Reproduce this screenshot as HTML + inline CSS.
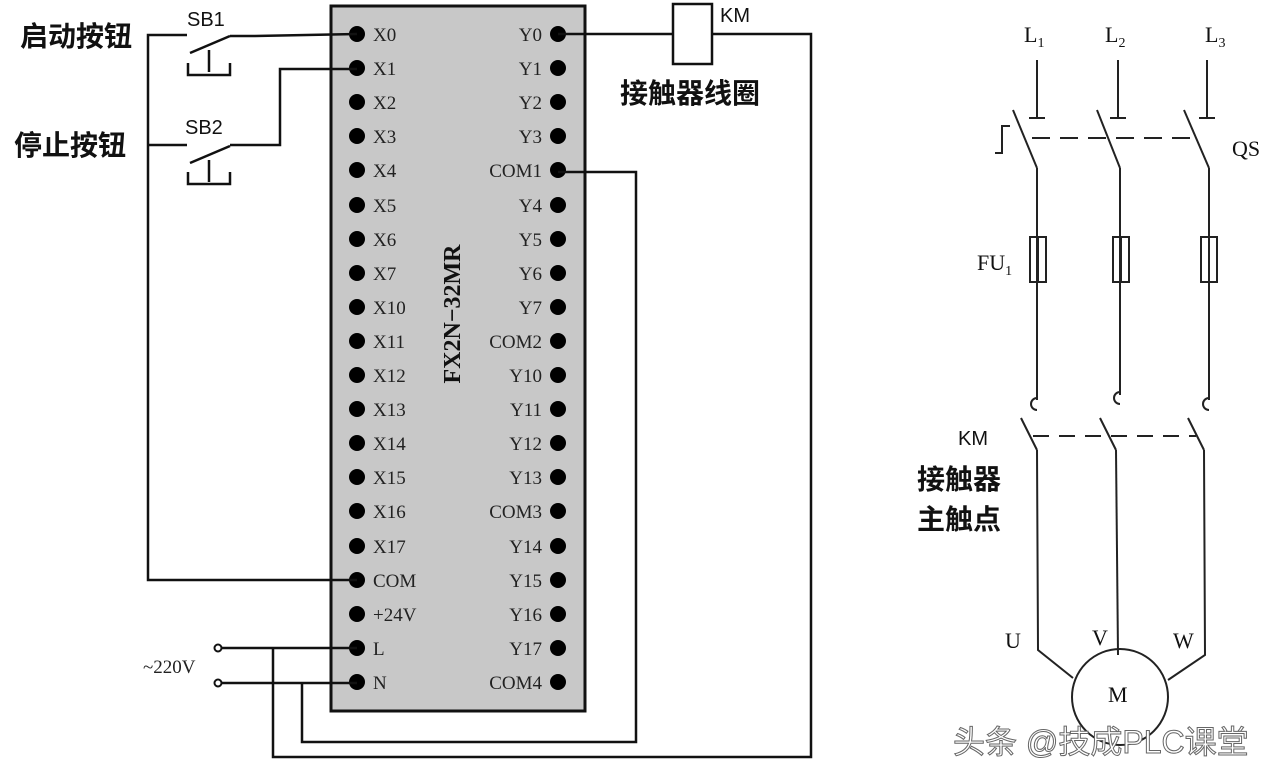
<!DOCTYPE html>
<html><head><meta charset="utf-8"><style>
html,body{margin:0;padding:0;background:#fff;}
svg{display:block}
.t{font-family:"Liberation Serif",serif;font-size:19px;fill:#222}
.c{font-family:"Liberation Sans","Noto Sans CJK SC",sans-serif;font-weight:bold;font-size:28px;fill:#111}
.s{font-family:"Liberation Sans",sans-serif;font-size:20px;fill:#111}
.r{font-family:"Liberation Serif",serif;font-size:22px;fill:#111}
</style></head><body>
<svg width="1280" height="780" viewBox="0 0 1280 780" xmlns="http://www.w3.org/2000/svg">
<rect x="331" y="6" width="254" height="705" fill="#c8c8c8" stroke="#111" stroke-width="3"/>
<g fill="#000">
<circle cx="357" cy="34" r="8"/><circle cx="357" cy="68" r="8"/><circle cx="357" cy="102" r="8"/><circle cx="357" cy="136" r="8"/><circle cx="357" cy="170" r="8"/><circle cx="357" cy="205" r="8"/><circle cx="357" cy="239" r="8"/><circle cx="357" cy="273" r="8"/><circle cx="357" cy="307" r="8"/><circle cx="357" cy="341" r="8"/><circle cx="357" cy="375" r="8"/><circle cx="357" cy="409" r="8"/><circle cx="357" cy="443" r="8"/><circle cx="357" cy="477" r="8"/><circle cx="357" cy="511" r="8"/><circle cx="357" cy="546" r="8"/><circle cx="357" cy="580" r="8"/><circle cx="357" cy="614" r="8"/><circle cx="357" cy="648" r="8"/><circle cx="357" cy="682" r="8"/>
<circle cx="558" cy="34" r="8"/><circle cx="558" cy="68" r="8"/><circle cx="558" cy="102" r="8"/><circle cx="558" cy="136" r="8"/><circle cx="558" cy="170" r="8"/><circle cx="558" cy="205" r="8"/><circle cx="558" cy="239" r="8"/><circle cx="558" cy="273" r="8"/><circle cx="558" cy="307" r="8"/><circle cx="558" cy="341" r="8"/><circle cx="558" cy="375" r="8"/><circle cx="558" cy="409" r="8"/><circle cx="558" cy="443" r="8"/><circle cx="558" cy="477" r="8"/><circle cx="558" cy="511" r="8"/><circle cx="558" cy="546" r="8"/><circle cx="558" cy="580" r="8"/><circle cx="558" cy="614" r="8"/><circle cx="558" cy="648" r="8"/><circle cx="558" cy="682" r="8"/>
</g>
<g class="t">
<text x="373" y="41">X0</text><text x="373" y="75">X1</text><text x="373" y="109">X2</text><text x="373" y="143">X3</text><text x="373" y="177">X4</text><text x="373" y="212">X5</text><text x="373" y="246">X6</text><text x="373" y="280">X7</text><text x="373" y="314">X10</text><text x="373" y="348">X11</text><text x="373" y="382">X12</text><text x="373" y="416">X13</text><text x="373" y="450">X14</text><text x="373" y="484">X15</text><text x="373" y="518">X16</text><text x="373" y="553">X17</text><text x="373" y="587">COM</text><text x="373" y="621">+24V</text><text x="373" y="655">L</text><text x="373" y="689">N</text>
</g>
<g class="t" text-anchor="end">
<text x="542" y="41">Y0</text><text x="542" y="75">Y1</text><text x="542" y="109">Y2</text><text x="542" y="143">Y3</text><text x="542" y="177">COM1</text><text x="542" y="212">Y4</text><text x="542" y="246">Y5</text><text x="542" y="280">Y6</text><text x="542" y="314">Y7</text><text x="542" y="348">COM2</text><text x="542" y="382">Y10</text><text x="542" y="416">Y11</text><text x="542" y="450">Y12</text><text x="542" y="484">Y13</text><text x="542" y="518">COM3</text><text x="542" y="553">Y14</text><text x="542" y="587">Y15</text><text x="542" y="621">Y16</text><text x="542" y="655">Y17</text><text x="542" y="689">COM4</text>
</g>
<text transform="translate(460,314) rotate(-90)" text-anchor="middle" font-family="Liberation Serif,serif" font-weight="bold" font-size="24" fill="#111">FX2N−32MR</text>

<g stroke="#111" stroke-width="2.5" fill="none">
<polyline points="187,35 148,35 148,580 357,580"/>
<line x1="148" y1="145" x2="187" y2="145"/>
<line x1="190" y1="53" x2="230" y2="36"/>
<polyline points="230,36 255,36 357,34"/>
<line x1="209" y1="50" x2="209" y2="72"/>
<polyline points="188,63 188,75 230,75 230,63"/>
<line x1="190" y1="163" x2="230" y2="146"/>
<polyline points="230,145 280,145 280,69 357,69"/>
<line x1="209" y1="160" x2="209" y2="182"/>
<polyline points="188,172 188,184 230,184 230,172"/>
<line x1="558" y1="34" x2="673" y2="34"/>
<rect x="673" y="4" width="39" height="60"/>
<polyline points="712,34 811,34 811,757 273,757 273,648"/>
<polyline points="558,172 636,172 636,742 302,742 302,683"/>
<line x1="222" y1="648" x2="357" y2="648"/>
<line x1="222" y1="683" x2="357" y2="683"/>
<circle cx="218" cy="648" r="3.5" stroke-width="2"/>
<circle cx="218" cy="683" r="3.5" stroke-width="2"/>
</g>
<text x="20" y="46" class="c" font-size="29">启动按钮</text>
<text x="14" y="155" class="c" font-size="29">停止按钮</text>
<text x="187" y="26" class="s">SB1</text>
<text x="185" y="134" class="s">SB2</text>
<text x="720" y="22" class="s">KM</text>
<text x="620" y="103" class="c" font-size="30">接触器线圈</text>
<text x="143" y="673" class="t" font-size="17">~220V</text>

<g stroke="#222" stroke-width="2" fill="none">
<line x1="1037" y1="60" x2="1037" y2="118"/><line x1="1029" y1="118" x2="1045" y2="118"/>
<line x1="1118" y1="60" x2="1118" y2="118"/><line x1="1110" y1="118" x2="1126" y2="118"/>
<line x1="1207" y1="60" x2="1207" y2="118"/><line x1="1199" y1="118" x2="1215" y2="118"/>
<line x1="1013" y1="110" x2="1037" y2="168"/>
<line x1="1097" y1="110" x2="1120" y2="168"/>
<line x1="1184" y1="110" x2="1209" y2="168"/>
<polyline points="995,153 1002,153 1002,126 1010,126"/>
<line x1="1032" y1="138" x2="1200" y2="138" stroke-dasharray="18,10"/>
<polyline points="1037,168 1037,400"/><polyline points="1120,168 1120,395"/><polyline points="1209,168 1209,400"/>
<rect x="1030" y="237" width="16" height="45"/><rect x="1113" y="237" width="16" height="45"/><rect x="1201" y="237" width="16" height="45"/>
<line x1="1038" y1="237" x2="1038" y2="282"/><line x1="1121" y1="237" x2="1121" y2="282"/><line x1="1209" y1="237" x2="1209" y2="282"/>
<path d="M1037,398 a6,6 0 1 0 0,12"/><path d="M1120,392 a6,6 0 1 0 0,12"/><path d="M1209,398 a6,6 0 1 0 0,12"/>
<line x1="1021" y1="418" x2="1037" y2="450"/>
<line x1="1100" y1="418" x2="1116" y2="450"/>
<line x1="1188" y1="418" x2="1204" y2="450"/>
<line x1="1033" y1="436" x2="1196" y2="436" stroke-dasharray="16,10"/>
<polyline points="1037,450 1038,650 1073,678"/>
<polyline points="1116,450 1118,655"/>
<polyline points="1204,450 1205,655 1168,680"/>
<circle cx="1120" cy="697" r="48"/>
</g>
<g class="r">
<text x="1024" y="42">L<tspan font-size="14" dy="5">1</tspan></text>
<text x="1105" y="42">L<tspan font-size="14" dy="5">2</tspan></text>
<text x="1205" y="42">L<tspan font-size="14" dy="5">3</tspan></text>
<text x="1232" y="156">QS</text>
<text x="977" y="270">FU<tspan font-size="14" dy="5">1</tspan></text>
<text x="1005" y="648">U</text><text x="1092" y="645">V</text><text x="1173" y="648">W</text>
<text x="1108" y="702">M</text>
</g>
<text x="958" y="445" class="s">KM</text>
<text x="917" y="489" class="c" font-size="31">接触器</text>
<text x="917" y="529" class="c" font-size="31">主触点</text>
<text x="953" y="753" font-family="Liberation Sans,Noto Sans CJK SC,sans-serif" font-size="32" fill="#fff" stroke="#666" stroke-width="1">头条 @技成PLC课堂</text>
</svg>
</body></html>
